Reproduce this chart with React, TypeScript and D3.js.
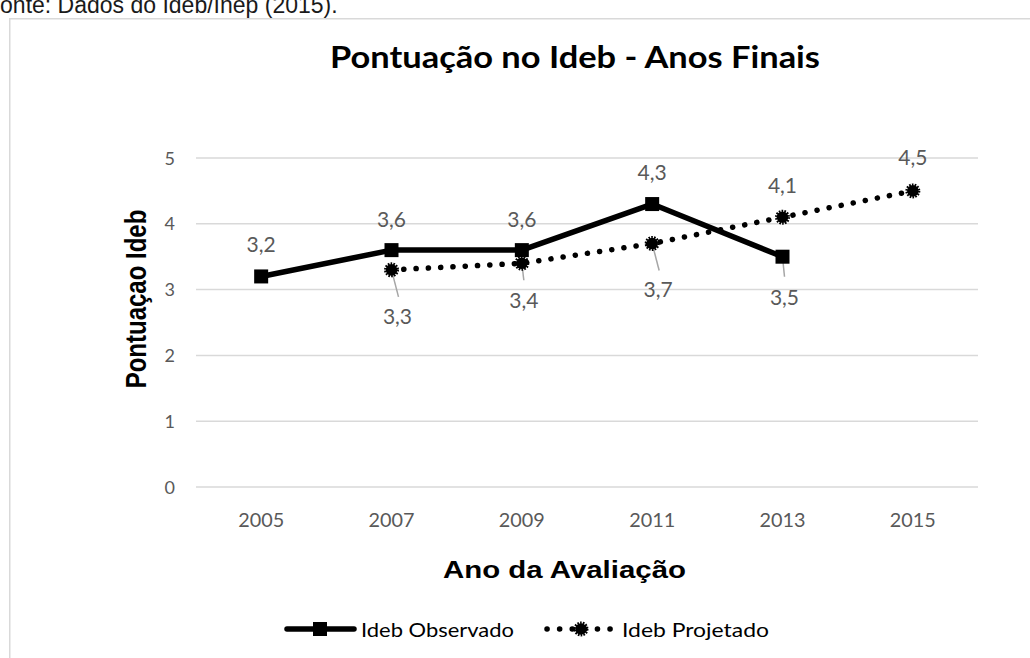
import React from "react";
import * as d3 from "d3";

const years = ["2005", "2007", "2009", "2011", "2013", "2015"];
const observed: (number | null)[] = [3.2, 3.6, 3.6, 4.3, 3.5, null];
const projected: (number | null)[] = [null, 3.3, 3.4, 3.7, 4.1, 4.5];
const yTicks = [0, 1, 2, 3, 4, 5];

// label placement (dx, dy of label baseline; leader end dx, dy or null)
const obsLabelPos: [number, number, number | null, number | null][] = [
  [0, -24, null, null],
  [0, -23, null, null],
  [0, -23, null, null],
  [0, -24, null, null],
  [2, 48, 2, 20],
  [0, 0, null, null],
];
const projLabelPos: [number, number, number | null, number | null][] = [
  [0, 0, null, null],
  [6, 54, 7, 27],
  [2, 45, 2, 17],
  [6, 53, 7, 27],
  [0, -24, null, null],
  [0, -26, null, null],
];

const fmt = (v: number) => v.toFixed(1).replace(".", ",");

export default function App() {
  const W = 1030, H = 658;
  const x = d3.scaleBand<string>().domain(years).range([196, 978]).padding(0);
  const cx = (yr: string) => (x(yr) as number) + x.bandwidth() / 2;
  const y = d3.scaleLinear().domain([0, 5]).range([487, 158]);

  const lineGen = d3
    .line<[string, number | null]>()
    .defined((d) => d[1] !== null)
    .x((d) => cx(d[0]))
    .y((d) => y(d[1] as number));

  const obsPairs = years.map((yr, i) => [yr, observed[i]] as [string, number | null]);
  const projPairs = years.map((yr, i) => [yr, projected[i]] as [string, number | null]);

  const labelFont = "Lato, 'Open Sans', sans-serif";
  const gray = "#595959";

  const jagged = (px: number, py: number, key: string) => (
    <g key={key}>
      <circle cx={px} cy={py} r={5.8} fill="#000" />
      <circle cx={px} cy={py} r={6.3} fill="none" stroke="#000" strokeWidth={2.4} strokeDasharray="1.6 1.2" />
    </g>
  );

  return (
    <svg width={W} height={H} style={{ position: "absolute", left: 0, top: 0, background: "#fff" }}>
      <rect x={0} y={0} width={W} height={H} fill="#fff" />
      <text x={-14} y={13} fontFamily="'Liberation Sans', Arial, sans-serif" fontSize={23} fill="#1a1a1a">
        Fonte: Dados do Ideb/Inep (2015).
      </text>
      <rect x={9.75} y={18.75} width={1300} height={900} fill="none" stroke="#d9d9d9" strokeWidth={1.5} />

      <text x={330} y={68} fontFamily={labelFont} fontWeight={700} fontSize={30} fill="#000" textLength={490} lengthAdjust="spacingAndGlyphs">
        Pontuação no Ideb - Anos Finais
      </text>

      {yTicks.map((t) => (
        <g key={t}>
          <line x1={196} x2={978} y1={y(t)} y2={y(t)} stroke="#d9d9d9" strokeWidth={1.5} />
          <text x={175} y={y(t) + 6.5} textAnchor="end" fontFamily={labelFont} fontSize={18} fill={gray}>
            {t}
          </text>
        </g>
      ))}

      {years.map((yr) => (
        <text key={yr} x={cx(yr)} y={527} textAnchor="middle" fontFamily={labelFont} fontSize={19} fill={gray} textLength={46} lengthAdjust="spacingAndGlyphs">
          {yr}
        </text>
      ))}

      <g transform="translate(146,299) scale(1.2,1) rotate(-90)">
        <text x={0} y={0} textAnchor="middle" fontFamily="'Liberation Sans', Arial, sans-serif" fontWeight={700} fontSize={24} fill="#000">
          Pontuaçao Ideb
        </text>
      </g>
      <text x={443} y={578} fontFamily="'Liberation Sans', Arial, sans-serif" fontWeight={700} fontSize={24} fill="#000" textLength={243} lengthAdjust="spacingAndGlyphs">
        Ano da Avaliação
      </text>

      {/* leader lines */}
      {years.map((yr, i) => {
        const o = observed[i];
        const p = obsLabelPos[i];
        if (o === null || p[2] === null) return null;
        return <line key={"lo" + yr} x1={cx(yr)} y1={y(o)} x2={cx(yr) + (p[2] as number)} y2={y(o) + (p[3] as number)} stroke="#a6a6a6" strokeWidth={1.5} />;
      })}
      {years.map((yr, i) => {
        const v = projected[i];
        const p = projLabelPos[i];
        if (v === null || p[2] === null) return null;
        return <line key={"lp" + yr} x1={cx(yr)} y1={y(v)} x2={cx(yr) + (p[2] as number)} y2={y(v) + (p[3] as number)} stroke="#a6a6a6" strokeWidth={1.5} />;
      })}

      {/* projected dotted line */}
      <path d={lineGen(projPairs) || ""} fill="none" stroke="#000" strokeWidth={5.5} strokeLinecap="round" strokeDasharray="0.1 12.2" />
      {/* observed solid line */}
      <path d={lineGen(obsPairs) || ""} fill="none" stroke="#000" strokeWidth={5.5} strokeLinejoin="round" />

      {years.map((yr, i) => {
        const o = observed[i];
        if (o === null) return null;
        return <rect key={"mo" + yr} x={cx(yr) - 7} y={y(o) - 7} width={14} height={14} fill="#000" />;
      })}
      {years.map((yr, i) => {
        const v = projected[i];
        if (v === null) return null;
        return jagged(cx(yr), y(v), "mp" + yr);
      })}

      {/* data labels */}
      {years.map((yr, i) => {
        const o = observed[i];
        if (o === null) return null;
        const p = obsLabelPos[i];
        return (
          <text key={"to" + yr} x={cx(yr) + p[0]} y={y(o) + p[1]} textAnchor="middle" fontFamily={labelFont} fontSize={21} fill={gray}>
            {fmt(o)}
          </text>
        );
      })}
      {years.map((yr, i) => {
        const v = projected[i];
        if (v === null) return null;
        const p = projLabelPos[i];
        return (
          <text key={"tp" + yr} x={cx(yr) + p[0]} y={y(v) + p[1]} textAnchor="middle" fontFamily={labelFont} fontSize={21} fill={gray}>
            {fmt(v)}
          </text>
        );
      })}

      {/* legend */}
      <line x1={287} x2={354} y1={629} y2={629} stroke="#000" strokeWidth={5.5} strokeLinecap="round" />
      <rect x={313} y={622} width={14} height={14} fill="#000" />
      <text x={361} y={637} fontFamily={labelFont} fontSize={20} fill="#000" textLength={153} lengthAdjust="spacingAndGlyphs">
        Ideb Observado
      </text>
      <line x1={547} x2={612} y1={629} y2={629} stroke="#000" strokeWidth={5.5} strokeLinecap="round" strokeDasharray="0.1 12.5" />
      {jagged(581, 629, "legj")}
      <text x={622} y={637} fontFamily={labelFont} fontSize={20} fill="#000" textLength={147} lengthAdjust="spacingAndGlyphs">
        Ideb Projetado
      </text>
    </svg>
  );
}
